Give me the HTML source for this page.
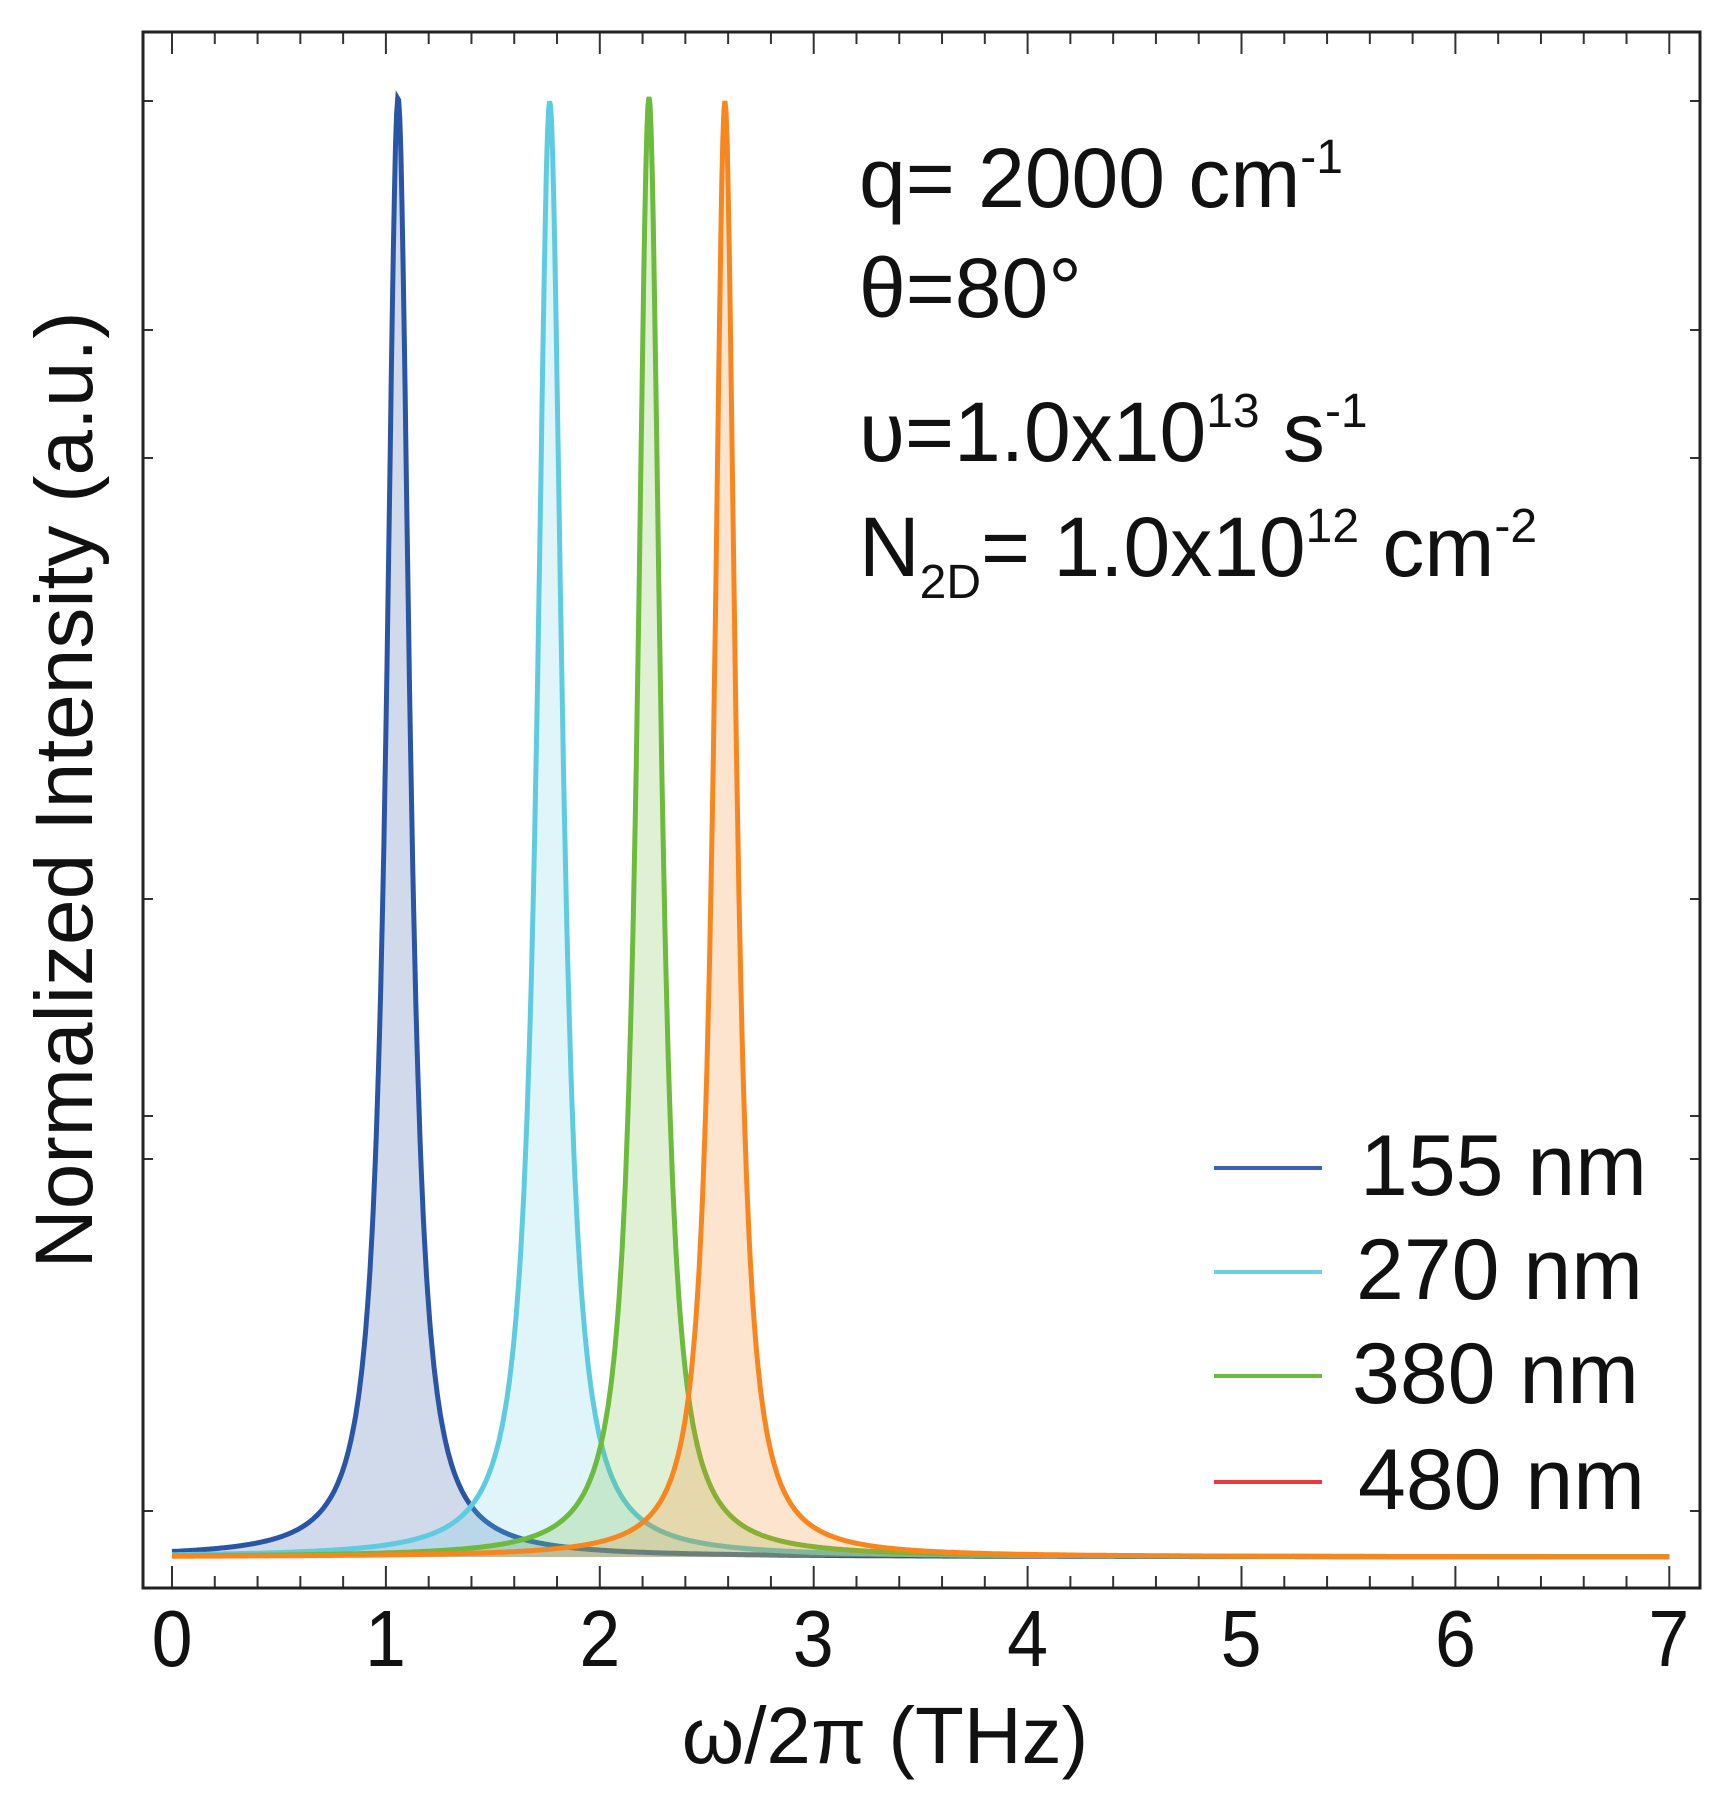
<!DOCTYPE html>
<html><head><meta charset="utf-8"><style>
html,body{margin:0;padding:0;background:#fff}
svg{display:block}
text{font-family:"Liberation Sans",sans-serif;fill:#111}
</style></head><body>
<svg id="s" width="1728" height="1794" viewBox="0 0 1728 1794" xmlns="http://www.w3.org/2000/svg">
<g id="curves"></g>
<g id="ticks" stroke="#333" stroke-width="2"></g>
<rect x="143" y="32" width="1557" height="1556" fill="none" stroke="#222" stroke-width="3"/>
<g font-size="80" transform="scale(0.92,1)">
<text x="187" y="1666" text-anchor="middle">0</text>
<text x="419" y="1666" text-anchor="middle">1</text>
<text x="652" y="1666" text-anchor="middle">2</text>
<text x="884" y="1666" text-anchor="middle">3</text>
<text x="1117" y="1666" text-anchor="middle">4</text>
<text x="1349" y="1666" text-anchor="middle">5</text>
<text x="1582" y="1666" text-anchor="middle">6</text>
<text x="1814" y="1666" text-anchor="middle">7</text>
</g>
<text x="885" y="1763" text-anchor="middle" font-size="80">ω/2π (THz)</text>
<text transform="translate(92,790) rotate(-90)" text-anchor="middle" font-size="82">Normalized Intensity (a.u.)</text>
<g font-size="84">
<text x="859" y="207">q= 2000 cm<tspan font-size="48" dy="-34">-1</tspan></text>
<text x="859" y="317">θ=80°</text>
<text x="859" y="461">υ=1.0x10<tspan font-size="48" dy="-34">13</tspan><tspan dy="34"> s</tspan><tspan font-size="48" dy="-34">-1</tspan></text>
<text x="859" y="576">N<tspan font-size="48" dy="22">2D</tspan><tspan dy="-22">= 1.0x10</tspan><tspan font-size="48" dy="-34">12</tspan><tspan dy="34"> cm</tspan><tspan font-size="48" dy="-34">-2</tspan></text>
</g>
<g stroke-width="4">
<line x1="1214" y1="1168" x2="1322" y2="1168" stroke="#3a62b0"/>
<line x1="1214" y1="1272" x2="1322" y2="1272" stroke="#6fcfe0"/>
<line x1="1214" y1="1376" x2="1322" y2="1376" stroke="#6cbb3c"/>
<line x1="1214" y1="1482" x2="1322" y2="1482" stroke="#ee3a3f"/>
</g>
<g font-size="86">
<text x="1360" y="1195">155 nm</text>
<text x="1356" y="1299">270 nm</text>
<text x="1352" y="1403">380 nm</text>
<text x="1358" y="1509">480 nm</text>
</g>
</svg>
<script>
(function(){
var X=function(f){return 172+f*213.9;};
var base=1557;
var series=[
 {c:1.057,g:0.065,col:"#2a55a5",fill:"rgba(42,85,165,0.22)",pk:97},
 {c:1.766,g:0.07,col:"#5fcbe0",fill:"rgba(95,203,224,0.2)",pk:101},
 {c:2.23,g:0.065,col:"#6cbb3c",fill:"rgba(108,187,60,0.22)",pk:97},
 {c:2.585,g:0.06,col:"#f7861f",fill:"rgba(247,134,31,0.22)",pk:101}
];
var g=document.getElementById('curves'),ns="http://www.w3.org/2000/svg";
series.forEach(function(s){
 var A=base-s.pk, pts=[];
 for(var i=0;i<=1400;i++){var f=i*0.005;var d=f-s.c;var L=s.g*s.g/(s.g*s.g+d*d);
  pts.push(X(f).toFixed(1)+","+(base-A*L).toFixed(1));}
 var p=document.createElementNS(ns,"path");
 p.setAttribute("d","M"+X(0)+","+base+" L"+pts.join(" L")+" L"+X(7)+","+base+"Z");
 p.setAttribute("fill",s.fill);g.appendChild(p);
 var l=document.createElementNS(ns,"path");
 l.setAttribute("d","M"+pts.join(" L"));l.setAttribute("fill","none");
 l.setAttribute("stroke",s.col);l.setAttribute("stroke-width","5");g.appendChild(l);
});
var t=document.getElementById('ticks'),h="";
for(var k=0;k<=35;k++){var x=X(k*0.2),len=(k%5==0)?22:12;
 h+='<line x1="'+x+'" y1="32" x2="'+x+'" y2="'+(32+len)+'"/>';
 h+='<line x1="'+x+'" y1="1588" x2="'+x+'" y2="'+(1588-len)+'"/>';}
[1511,1159,1116,899,458,330,101].forEach(function(y){
 h+='<line x1="143" y1="'+y+'" x2="153" y2="'+y+'"/><line x1="1700" y1="'+y+'" x2="1690" y2="'+y+'"/>';});
t.innerHTML=h;
})();
</script>
</body></html>
